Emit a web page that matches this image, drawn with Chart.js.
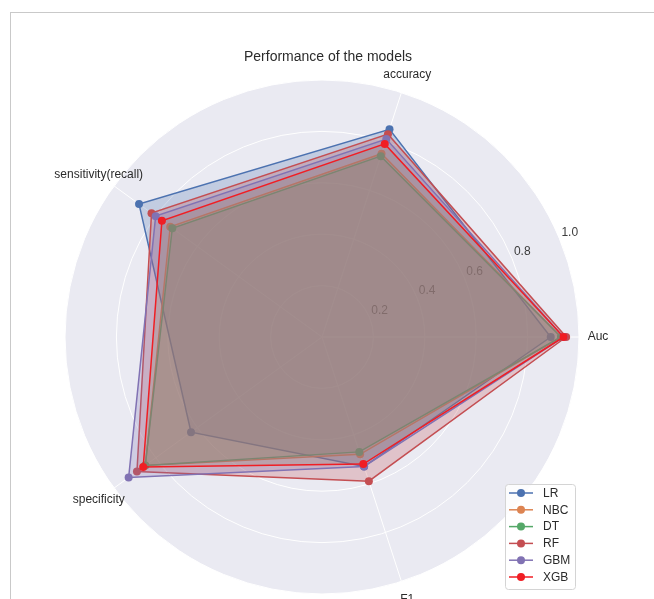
<!DOCTYPE html>
<html><head><meta charset="utf-8">
<script src="https://cdn.jsdelivr.net/npm/chart.js@4.4.1/dist/chart.umd.min.js"></script>
<style>
html,body{margin:0;padding:0;background:#fff;}
#wrap{position:relative;width:654px;height:599px;overflow:hidden;background:#fff;}
#frame{position:absolute;left:10px;top:12px;width:700px;height:700px;border-top:1px solid #c9c9c9;border-left:1px solid #c9c9c9;}
canvas{position:absolute;left:0;top:0;}
</style></head>
<body><div id="wrap"><div id="frame"></div><canvas id="c" width="654" height="599"></canvas></div>
<script>
// metrics in the reference's (counter-clockwise) order
const metrics = ['Auc', 'accuracy', 'sensitivity(recall)', 'specificity', 'F1'];
const models = ['LR', 'NBC', 'DT', 'RF', 'GBM', 'XGB'];
const LR  = [0.89, 0.85, 0.88, 0.63, 0.53];
const NBC = [0.93, 0.75, 0.73, 0.85, 0.48];
const DT  = [0.93, 0.74, 0.72, 0.85, 0.47];
const RF  = [0.95, 0.83, 0.82, 0.89, 0.59];
const GBM = [0.94, 0.81, 0.80, 0.93, 0.53];
const XGB = [0.94, 0.79, 0.77, 0.86, 0.52];
const tickValues = [0.2, 0.4, 0.6, 0.8, 1.0];
const titleText = 'Performance of the models';

const seriesValues = [LR, NBC, DT, RF, GBM, XGB];
const lineColors = ['#4C72B0', '#DD8452', '#55A868', '#C44E52', '#8172B3', '#F01E24'];
const fillColors = ['#4C72B0', '#DD8452', '#55A868', '#C44E52', '#8172B3', '#937860'];
// Chart.js runs clockwise; reorder so the picture goes counter-clockwise from Auc
const order = [0, 4, 3, 2, 1];
const labels = order.map(i => metrics[i]);

function rgba(hex, a) {
  const n = parseInt(hex.slice(1), 16);
  return `rgba(${(n >> 16) & 255},${(n >> 8) & 255},${n & 255},${a})`;
}

const datasets = models.map((m, k) => ({
  label: m,
  data: order.map(i => seriesValues[k][i]),
  borderColor: lineColors[k],
  backgroundColor: rgba(fillColors[k], 0.25),
  pointBackgroundColor: lineColors[k],
  pointBorderColor: lineColors[k],
  pointRadius: 4,
  pointBorderWidth: 0,
  borderWidth: 1.5,
  fill: true,
  order: models.length - k
}));

const FONT = '"Liberation Sans", Arial, sans-serif';
const TXT = '#2b2b2b';

const deco = {
  id: 'deco',
  beforeDatasetsDraw(chart) {
    const s = chart.scales.r, ctx = chart.ctx;
    ctx.save();
    ctx.font = '12px ' + FONT;
    ctx.fillStyle = '#3c3c3c';
    ctx.textAlign = 'center';
    ctx.textBaseline = 'middle';
    const a = 22.3 * Math.PI / 180;
    tickValues.forEach(v => {
      const d = s.getDistanceFromCenterForValue(v);
      ctx.fillText(v.toFixed(1), s.xCenter + d * Math.cos(a) + 10, s.yCenter - d * Math.sin(a) - 7);
    });
    ctx.restore();
  },
  afterDatasetsDraw(chart) {
    const s = chart.scales.r, ctx = chart.ctx;
    ctx.save();
    // axis (point) labels
    ctx.font = '12px ' + FONT;
    ctx.fillStyle = TXT;
    ctx.textAlign = 'center';
    ctx.textBaseline = 'middle';
    labels.forEach((lab, i) => {
      const p = s.getPointPosition(i, s.drawingArea + 19);
      ctx.fillText(lab, p.x, p.y);
    });
    // title
    ctx.font = '14px ' + FONT;
    ctx.fillText(titleText, s.xCenter + 6, 57);
    // legend
    const bx = 505, by = 484, bw = 70, bh = 105;
    ctx.beginPath();
    ctx.roundRect(bx + 0.5, by + 0.5, bw, bh, 3);
    ctx.fillStyle = 'rgba(255,255,255,0.85)';
    ctx.fill();
    ctx.strokeStyle = '#d4d4d4';
    ctx.lineWidth = 1;
    ctx.stroke();
    ctx.font = '12px ' + FONT;
    ctx.textAlign = 'left';
    models.forEach((m, k) => {
      const y = 493 + k * 16.8;
      ctx.strokeStyle = lineColors[k];
      ctx.lineWidth = 1.5;
      ctx.beginPath(); ctx.moveTo(509, y); ctx.lineTo(533, y); ctx.stroke();
      ctx.fillStyle = lineColors[k];
      ctx.beginPath(); ctx.arc(521, y, 4, 0, Math.PI * 2); ctx.fill();
      ctx.fillStyle = TXT;
      ctx.fillText(m, 543, y + 0.5);
    });
    ctx.restore();
  }
};

new Chart(document.getElementById('c'), {
  type: 'radar',
  data: { labels, datasets },
  options: {
    responsive: false,
    animation: false,
    devicePixelRatio: 1,
    layout: { padding: { left: 65, top: 80, right: 75, bottom: 5 } },
    plugins: { legend: { display: false }, title: { display: false }, tooltip: { enabled: false } },
    elements: { line: { tension: 0 } },
    scales: {
      r: {
        min: 0, max: 1, startAngle: 90,
        backgroundColor: '#EAEAF2',
        grid: { circular: true, color: '#ffffff', lineWidth: 1 },
        angleLines: { color: '#ffffff', lineWidth: 1 },
        ticks: { display: false, stepSize: 0.2 },
        pointLabels: { display: false }
      }
    }
  },
  plugins: [deco]
});
</script>
</body></html>
